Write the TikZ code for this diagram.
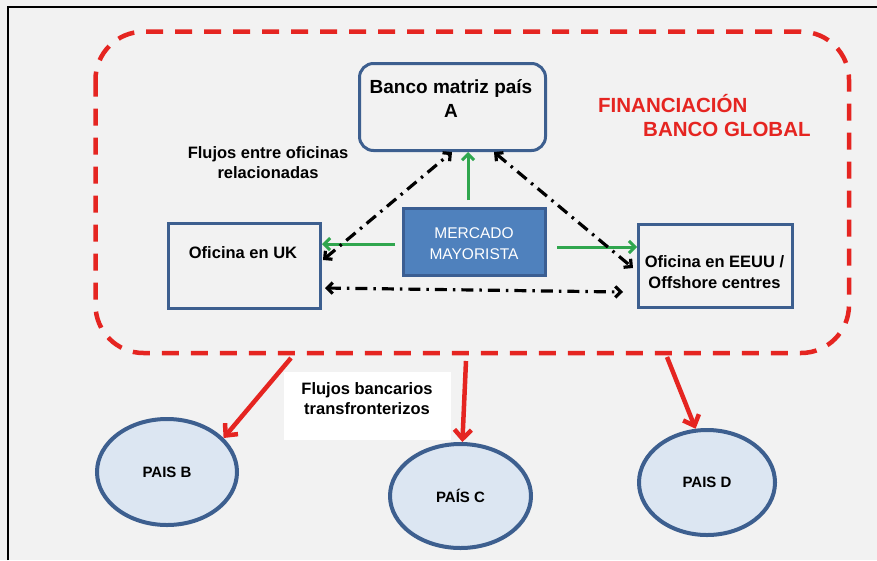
\documentclass[tikz,border=0pt]{standalone}
\usepackage{fontspec}
\setmainfont{Liberation Sans}
\usetikzlibrary{arrows.meta,shapes.geometric,calc}
\definecolor{bgc}{HTML}{F2F2F2}
\definecolor{bdr}{HTML}{3D5F8F}
\definecolor{mfill}{HTML}{4F81BD}
\definecolor{mbd}{HTML}{3B5E92}
\definecolor{circf}{HTML}{DCE6F2}
\definecolor{redc}{HTML}{E52521}
\definecolor{grc}{HTML}{30A64E}
\tikzset{
  officebox/.style={draw=bdr, line width=3pt, fill=bgc, inner sep=0pt},
  lbl/.style={font=\fontsize{16.5}{20}\selectfont\bfseries, align=center, inner sep=0pt, anchor=base},
  grn/.style={draw=grc, line width=3pt, -{Straight Barb[length=6pt,width=12pt]}},
  ddot/.style={draw=black, line width=3.2pt, dash pattern=on 12pt off 6pt on 2.5pt off 6pt,
    {Straight Barb[length=5.5pt,width=11pt]}-{Straight Barb[length=5.5pt,width=11pt]}},
  redarr/.style={draw=redc, line width=4.5pt, -{Straight Barb[length=9pt,width=17pt]}},
  pais/.style={ellipse, draw=bdr, line width=4pt, fill=circf, inner sep=0pt,
    font=\fontsize{15}{17}\selectfont\bfseries},
}
\begin{document}
\begin{tikzpicture}[x=1pt,y=-1pt]
\fill[bgc] (0,0) rectangle (877,560);
\useasboundingbox (0,0) rectangle (877,560);
% frame
\draw[line width=2.5pt] (8,560) -- (8,7) -- (877,7);
% dashed global bank region
\draw[redc, line width=4.5pt, dash pattern=on 17pt off 12pt, rounded corners=48pt]
  (95.5,31.7) rectangle (849,353);
% boxes
\node[officebox, rounded corners=14pt, minimum width=186pt, minimum height=87pt] (banco) at (452.5,107) {};
\node[officebox, minimum width=152pt, minimum height=85pt] (uk) at (244.5,266) {};
\node[officebox, minimum width=154pt, minimum height=83pt] (eeuu) at (715.5,266) {};
\node[draw=mbd, fill=mfill, line width=3pt, minimum width=142pt, minimum height=67pt, inner sep=0pt] (merc) at (474.5,242) {};
% texts (base anchor = baseline of last line)
\node[lbl, font=\fontsize{19}{24}\selectfont\bfseries] (tbanco) at (451,117) {Banco matriz país\\A};
\node[lbl] (tuk) at (243,258) {Oficina en UK};
\node[lbl, font=\fontsize{16.5}{21}\selectfont\bfseries] (teeuu) at (714.5,288) {Oficina en EEUU /\\Offshore centres};
\node[lbl, font=\fontsize{15.5}{21}\selectfont, text=white] (tmerc) at (474,259) {MERCADO\\MAYORISTA};
\node[lbl] (tflujos) at (268,178) {Flujos entre oficinas\\relacionadas};
\node[font=\fontsize{20.5}{24}\selectfont\bfseries, text=redc, inner sep=0pt, anchor=base west] (tfin) at (598,112) {FINANCIACIÓN};
\node[font=\fontsize{20.5}{24}\selectfont\bfseries, text=redc, inner sep=0pt, anchor=base west] (tbg) at (643,136) {BANCO GLOBAL};
% green arrows
\draw[grn] ([xshift=-6.5pt,yshift=7pt]merc.north) -- ([xshift=15.5pt]banco.south);
\draw[grn] ([xshift=-7pt,yshift=-2pt]merc.west) -- ([yshift=-2pt]merc.west -| uk.east);
\draw[grn] ([xshift=10pt,yshift=-5pt]merc.east) -- ([yshift=-5pt]merc.east -| eeuu.west);
% dash-dot arrows
\draw[ddot] ([xshift=1pt,yshift=6pt]uk.east) -- ([xshift=-0.5pt]banco.south);
\draw[ddot] ([xshift=41.5pt]banco.south) -- ([xshift=-4pt,yshift=-2pt]eeuu.west);
\draw[ddot] ([xshift=3pt,yshift=-22pt]uk.east) -- ([xshift=-14pt,yshift=-26pt]eeuu.west);
% countries
\node[pais, minimum width=140pt, minimum height=106pt] (pb) at (167,472) {PAIS B};
\node[pais, minimum width=141pt, minimum height=104pt] (pc) at (460.5,496) {PAÍS C};
\node[pais, minimum width=136pt, minimum height=105pt] (pd) at (707,482.5) {PAIS D};
% cross-border label
\node[fill=white, minimum width=167pt, minimum height=68pt, inner sep=0pt] (fb) at (367.5,406) {};
\node[lbl] (tfb) at (367,414) {Flujos bancarios\\transfronterizos};
% red arrows
\coordinate (r1) at (291,358);
\coordinate (r2) at (466,361);
\coordinate (r3) at (667,357);
\draw[redarr] (r1) -- (pb.31);
\draw[redarr] (r2) -- (pc.88);
\draw[redarr] (r3) -- (pd.102);
\end{tikzpicture}
\end{document}
